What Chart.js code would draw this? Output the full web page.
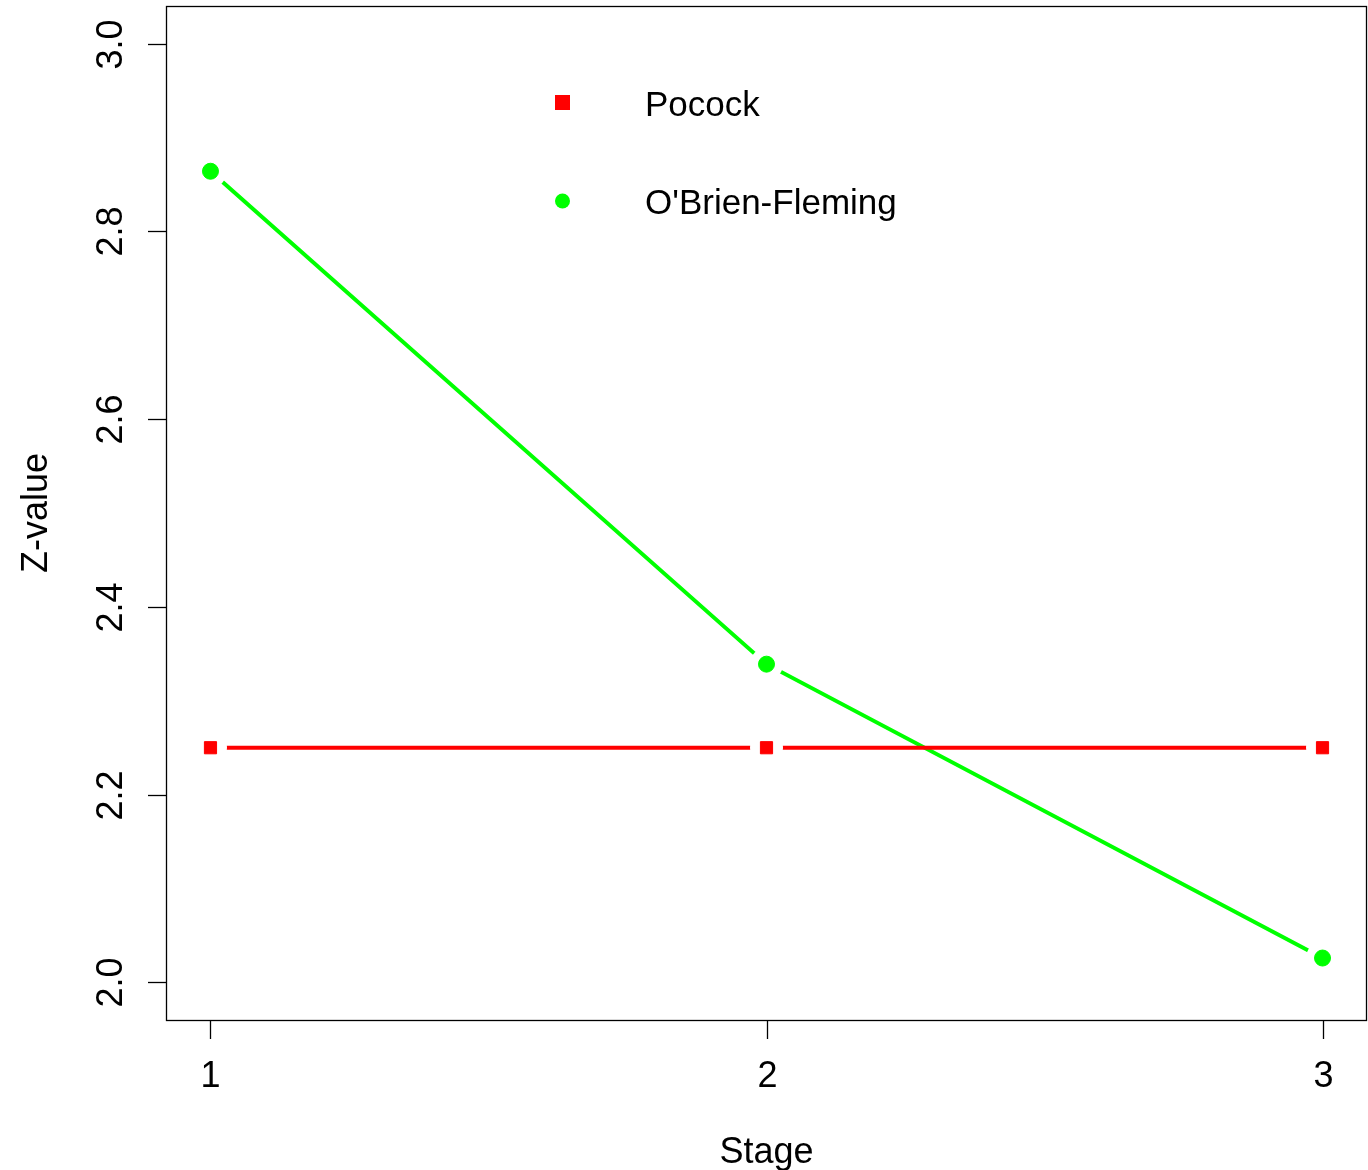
<!DOCTYPE html>
<html>
<head>
<meta charset="utf-8">
<title>Group sequential boundaries</title>
<script src="https://cdn.jsdelivr.net/npm/chart.js@4"></script>
<style>
  html, body { margin: 0; padding: 0; background: #ffffff; }
  canvas { display: block; }
</style>
</head>
<body>
<canvas id="chart" width="1368" height="1170"></canvas>
<script>
// Critical Z-values per stage for two group sequential designs
const stages = [1, 2, 3];
const pocock = [2.25, 2.25, 2.25];
const obrienFleming = [2.864, 2.339, 2.026];

const seriesNames = ['Pocock', "O'Brien-Fleming"];
const seriesColors = ['#ff0000', '#00ff00'];

const xTicks = [1, 2, 3];
const xTickLabels = ['1', '2', '3'];
const yTicks = [2.0, 2.2, 2.4, 2.6, 2.8, 3.0];
const yTickLabels = ['2.0', '2.2', '2.4', '2.6', '2.8', '3.0'];

const xTitle = 'Stage';
const yTitle = 'Z-value';

const FONT = '36px "Liberation Sans", Arial, sans-serif';
const LEGEND_FONT = '35px "Liberation Sans", Arial, sans-serif';

function pts(ys) {
  return stages.map((s, i) => ({ x: s, y: ys[i] }));
}

// type="b" look: line, then a white halo under each marker to open a gap
function lineSet(ys, color) {
  return { data: pts(ys), borderColor: color, borderWidth: 4, pointRadius: 0,
           showLine: true, fill: false, order: 3 };
}
function haloSet(ys) {
  return { data: pts(ys), showLine: false, pointRadius: 16.5, pointStyle: 'circle',
           pointBackgroundColor: '#ffffff', pointBorderWidth: 0, order: 2 };
}
function markerSet(ys, color, style, radius) {
  return { data: pts(ys), showLine: false, pointStyle: style, pointRadius: radius,
           pointBackgroundColor: color, pointBorderColor: color, pointBorderWidth: 1, order: 1 };
}

// Box, ticks, tick labels, axis titles and legend in base-graphics style
const frame = {
  id: 'frame',
  afterDraw(chart) {
    const ctx = chart.ctx;
    const a = chart.chartArea;
    const xs = chart.scales.x, ys = chart.scales.y;
    ctx.save();
    ctx.strokeStyle = '#000000';
    ctx.lineWidth = 1.3;
    ctx.strokeRect(a.left + 0.5, a.top + 0.5, a.right - a.left - 1, a.bottom - a.top);

    // x axis ticks and labels
    ctx.fillStyle = '#000000';
    ctx.font = FONT;
    ctx.textAlign = 'center';
    ctx.textBaseline = 'middle';
    xTicks.forEach((v, i) => {
      const px = Math.round(xs.getPixelForValue(v)) + 0.5;
      ctx.beginPath();
      ctx.moveTo(px, a.bottom);
      ctx.lineTo(px, a.bottom + 19);
      ctx.stroke();
      ctx.fillText(xTickLabels[i], px, a.bottom + 57);
    });

    // y axis ticks and rotated labels
    yTicks.forEach((v, i) => {
      const py = Math.round(ys.getPixelForValue(v)) + 0.5;
      ctx.beginPath();
      ctx.moveTo(a.left, py);
      ctx.lineTo(a.left - 18, py);
      ctx.stroke();
      ctx.save();
      ctx.translate(a.left - 54, py);
      ctx.rotate(-Math.PI / 2);
      ctx.fillText(yTickLabels[i], 0, 0);
      ctx.restore();
    });

    // axis titles
    ctx.fillText(xTitle, (xs.getPixelForValue(2)), a.bottom + 133);
    ctx.save();
    ctx.translate(37, (a.top + a.bottom) / 2);
    ctx.rotate(-Math.PI / 2);
    ctx.fillText(yTitle, 0, 0);
    ctx.restore();

    // legend
    ctx.font = LEGEND_FONT;
    ctx.textAlign = 'left';
    ctx.fillStyle = seriesColors[0];
    ctx.fillRect(555, 95, 15, 15);
    ctx.fillStyle = seriesColors[1];
    ctx.beginPath();
    ctx.arc(562.5, 201, 7.5, 0, Math.PI * 2);
    ctx.fill();
    ctx.fillStyle = '#000000';
    ctx.fillText(seriesNames[0], 645, 106);
    ctx.fillText(seriesNames[1], 645, 204);
    ctx.restore();
  }
};

new Chart(document.getElementById('chart'), {
  type: 'scatter',
  data: {
    datasets: [
      lineSet(pocock, seriesColors[0]),
      lineSet(obrienFleming, seriesColors[1]),
      haloSet(pocock),
      haloSet(obrienFleming),
      markerSet(pocock, seriesColors[0], 'rect', 8.6),
      markerSet(obrienFleming, seriesColors[1], 'circle', 8)
    ]
  },
  options: {
    responsive: false,
    animation: false,
    devicePixelRatio: 1,
    layout: { autoPadding: false, padding: { left: 166, top: 6, right: 1, bottom: 150 } },
    plugins: { legend: { display: false }, tooltip: { enabled: false } },
    scales: {
      x: { type: 'linear', display: false, min: 0.92, max: 3.08 },
      y: { type: 'linear', display: false, min: 1.96, max: 3.04 }
    }
  },
  plugins: [frame]
});
</script>
</body>
</html>
